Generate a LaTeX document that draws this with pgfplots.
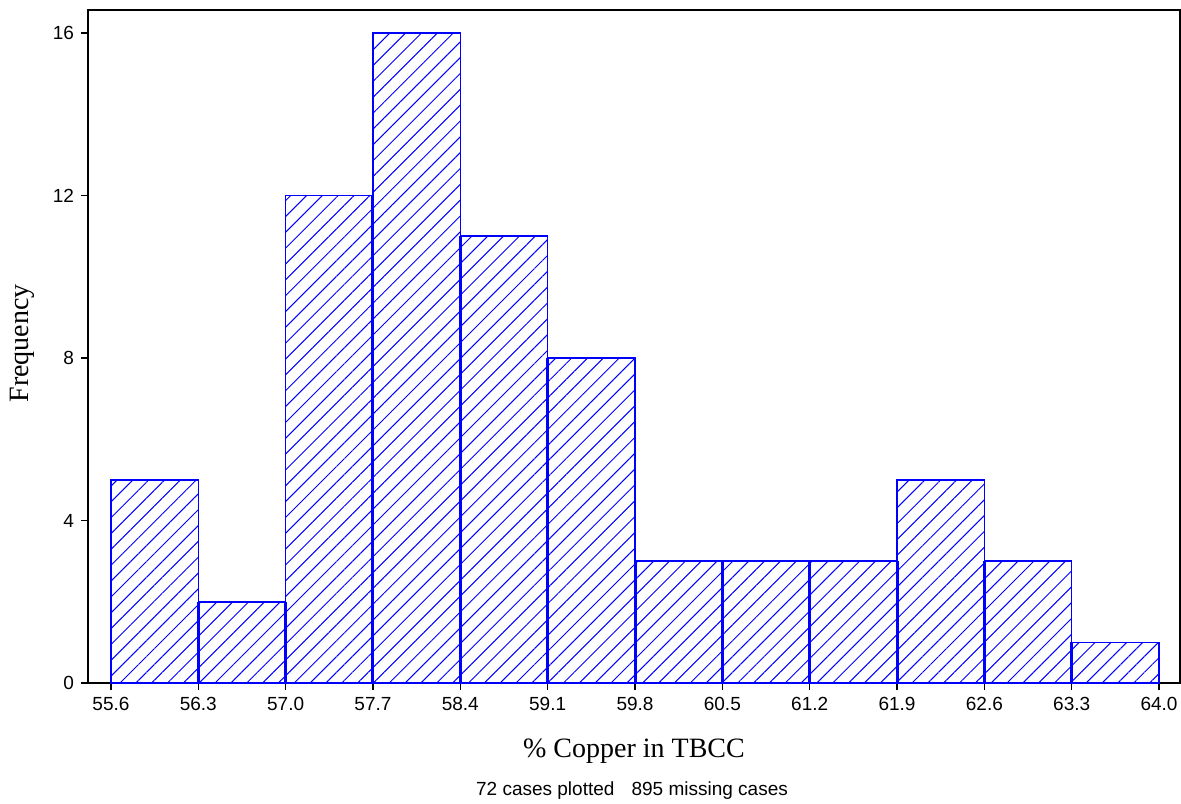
\documentclass[border=0pt]{standalone}
\usepackage{fontspec}
\setmainfont{Liberation Serif}
\setsansfont{Liberation Sans}
\usepackage{pgfplots}
\pgfplotsset{compat=1.18}
\usetikzlibrary{patterns.meta}
\begin{document}
\begin{tikzpicture}
\useasboundingbox (-44pt,-60pt) rectangle (546.5pt,341.5pt);
\begin{axis}[
  at={(0,0)}, anchor=south west,
  scale only axis,
  width=546pt, height=336.5pt,
  xmin=55.416, xmax=64.168,
  ymin=0, ymax=16.566,
  axis line style={black, line width=1pt},
  xtick={55.6,56.3,57.0,57.7,58.4,59.1,59.8,60.5,61.2,61.9,62.6,63.3,64.0},
  xticklabels={55.6,56.3,57.0,57.7,58.4,59.1,59.8,60.5,61.2,61.9,62.6,63.3,64.0},
  ytick={0,4,8,12,16},
  xtick pos=bottom, ytick pos=left,
  tick align=outside,
  major tick length=3.5pt,
  tick style={black, line width=0.75pt},
  ticklabel style={font=\sffamily\fontsize{9.5}{11}\selectfont},
  /pgf/number format/assume math mode=true,
  xlabel={\% Copper in TBCC},
  ylabel={Frequency},
  xlabel style={font=\fontsize{14}{16}\selectfont, at={(axis description cs:0.5,0)}, anchor=center, yshift=-34pt},
  ylabel style={font=\fontsize{14}{16}\selectfont, at={(axis description cs:-0.0604,0.5045)}, anchor=center},
  clip=false,
]
\addplot[ybar interval, draw=blue, line width=0.75pt,
  fill=white, postaction={pattern={Lines[angle=45,distance=5.6pt,line width=0.5pt]}, pattern color=blue}]
  coordinates {(55.6,5)(56.3,2)(57.0,12)(57.7,16)(58.4,11)(59.1,8)(59.8,3)(60.5,3)(61.2,3)(61.9,5)(62.6,3)(63.3,1)(64.0,1)};
\addplot[ycomb, draw=blue, line width=1.5pt, mark=none]
  coordinates {(56.3,2)(57.0,2)(57.7,12)(58.4,11)(59.1,8)(59.8,3)(60.5,3)(61.2,3)(61.9,3)(62.6,3)(63.3,1)};
\end{axis}
\node[font=\sffamily\fontsize{9.5}{11}\selectfont] at (272pt,-54pt) {72 cases plotted\hspace{0.9em}895 missing cases};
\end{tikzpicture}
\end{document}
